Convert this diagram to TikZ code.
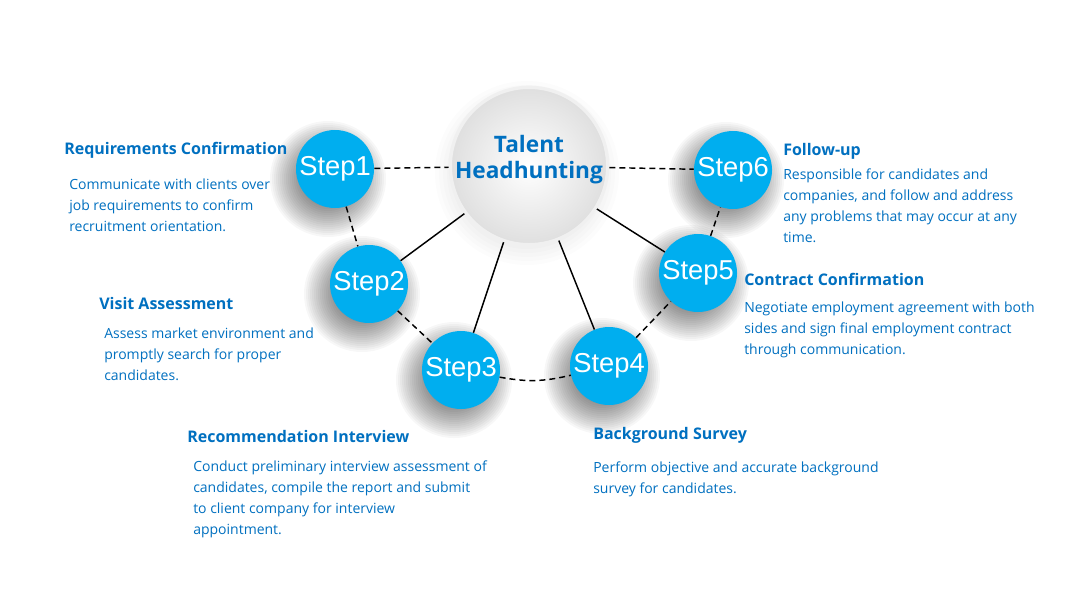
\documentclass[tikz,border=0pt]{standalone}
\usepackage{fontspec}
\setmainfont{Open Sans}
\newfontfamily\stepfont{Liberation Sans}
\usetikzlibrary{positioning,backgrounds}
\definecolor{stepblue}{RGB}{0,174,239}
\definecolor{txtblue}{RGB}{0,112,192}

\begin{document}
\begin{tikzpicture}[x=0.75pt, y=-0.75pt,
  hub/.style={circle, inner sep=0pt, minimum size=118pt, draw=gray!12,
              line width=2.5pt, inner color=white, outer color=gray!25,
              text=txtblue, font=\fontsize{17}{19.5}\selectfont\bfseries},
  stepnode/.style={circle, inner sep=0pt, minimum size=58.5pt, fill=stepblue,
              text=white, font=\stepfont\fontsize{20.5}{20}\selectfont},
  softshade/.style={black, opacity=0.032},
  head/.style={anchor=west, inner sep=0pt, text height=8.5pt, text depth=2.5pt,
               text=txtblue, font=\fontsize{12}{14}\selectfont\bfseries},
  desc/.style={inner sep=0pt, align=left, text=txtblue,
               font=\fontsize{10.5}{15.75}\selectfont},
  link/.style={line width=1.1pt},
  dlink/.style={line width=1.1pt, dash pattern=on 4.5pt off 3pt}
]
\useasboundingbox (0,0) rectangle (1080,608);

% circles
\node[hub] (hub) at (529,166)
  {\raisebox{4pt}[\height][\depth]{\begin{tabular}{@{}c@{}}Talent\\Headhunting\end{tabular}}};
\node[stepnode] (s1) at (335,169) {Step1};
\node[stepnode] (s2) at (369,284) {Step2};
\node[stepnode] (s3) at (461,370) {Step3};
\node[stepnode] (s4) at (609,366) {Step4};
\node[stepnode] (s5) at (698,273) {Step5};
\node[stepnode] (s6) at (733,170) {Step6};

% soft shadows behind the circles
\begin{scope}[on background layer]
  \fill[white] (0,0) rectangle (1080,608);
  \foreach \r in {60,64,...,92}
    \fill[black, opacity=0.012] ([shift={(-2,7)}]hub.center) circle (\r*0.75pt);
  \foreach \n in {s1,s2,s3,s4,s5,s6}
    \foreach \r in {28,30,...,58}
      \fill[softshade] ([shift={(-7,10)}]\n.center) circle (\r*0.75pt);
\end{scope}

% connectors
\draw[dlink] (s1) -- (hub);
\draw[dlink] (hub) -- (s6);
\draw[dlink] (s1) -- (s2);
\draw[dlink] (s2) -- (s3);
\draw[dlink] (s3) to[bend right=12] (s4);
\draw[dlink] (s4) -- (s5);
\draw[dlink] (s5) -- (s6);
\draw[link] (hub) -- (s2);
\draw[link] (hub) -- (s3);
\draw[link] (hub) -- (s4);
\draw[link] (hub) -- (s5);

% texts
\node[head] (reqt) at (64,150) {Requirements Confirmation};
\node[desc, below right=15.5pt and 3.75pt of reqt.south west]
  {Communicate with clients over\\job requirements to confirm\\recruitment orientation.};
\node[head] (visit) at (99,305) {Visit Assessment};
\node[desc, below right=11pt and 3.75pt of visit.south west]
  {Assess market environment and\\promptly search for proper\\candidates.};
\node[head] (recom) at (187,438) {Recommendation Interview};
\node[desc, below right=11pt and 4.5pt of recom.south west]
  {Conduct preliminary interview assessment of\\candidates, compile the report and submit\\to client company for interview\\appointment.};
\node[head] (backg) at (593,435) {Background Survey};
\node[desc, below right=14pt and 0pt of backg.south west]
  {Perform objective and accurate background\\survey for candidates.};
\node[head] (follow) at (783,151) {Follow-up};
\node[desc, below right=7.3pt and 0pt of follow.south west]
  {Responsible for candidates and\\companies, and follow and address\\any problems that may occur at any\\time.};
\node[head] (contr) at (744,281) {Contract Confirmation};
\node[desc, below right=9.5pt and 0pt of contr.south west]
  {Negotiate employment agreement with both\\sides and sign final employment contract\\through communication.};
\end{tikzpicture}
\end{document}
